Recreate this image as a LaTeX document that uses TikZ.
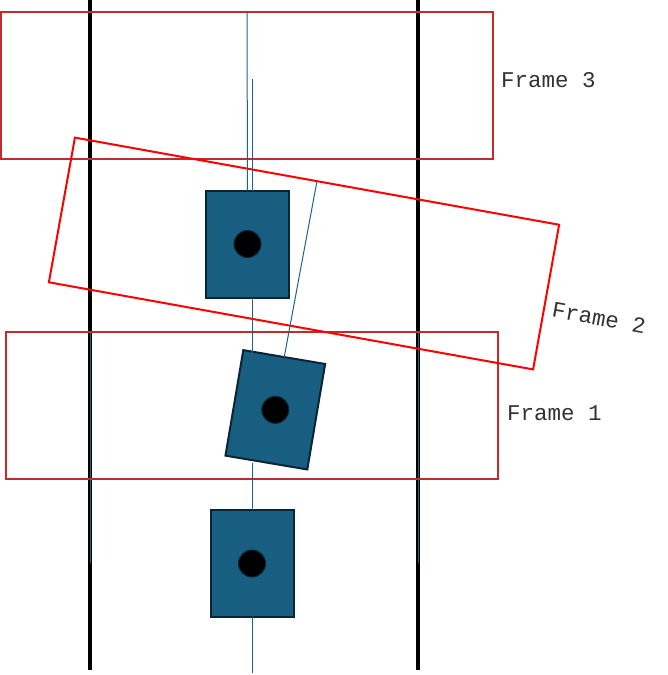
\documentclass[tikz,border=0pt]{standalone}
\usepackage{fontspec}
\newfontfamily\monofont{Liberation Mono}
\definecolor{carblue}{HTML}{175E81}
\definecolor{caredge}{HTML}{0B2533}
\definecolor{headblue}{HTML}{1F6388}
\definecolor{frameA}{HTML}{C02C2C}
\definecolor{frameB}{HTML}{FF0000}
\definecolor{labelgray}{HTML}{333333}
\tikzset{
  lane/.style={line width=4.5pt, black},
  heading/.style={line width=1pt, headblue},
  framebox/.style={draw=frameA, line width=2pt, minimum width=492pt, minimum height=147pt, inner sep=0pt, outer sep=0pt},
  carbox/.style={draw=caredge, fill=carblue, line width=2pt, minimum width=83pt, minimum height=107pt, inner sep=0pt, outer sep=0pt},
  wheel/.style={circle, fill=black, draw=caredge, line width=1pt, minimum size=27pt, inner sep=0pt},
  framelabel/.style={font=\monofont\fontsize{22.5}{22.5}\selectfont, text=labelgray, inner sep=0pt, anchor=west}
}
\begin{document}
\begin{tikzpicture}[x=1pt,y=-1pt]
\useasboundingbox (0,0) rectangle (667,675);
% lane lines
\coordinate (l1t) at (90,0);
\coordinate (l1b) at (90,670);
\coordinate (l2t) at (418,0);
\coordinate (l2b) at (418,670);
\draw[lane] (l1t) -- (l1b);
\draw[lane] (l2t) -- (l2b);
\coordinate (b1t) at (90.5,331);
\coordinate (b1b) at (90.5,563);
\coordinate (b2t) at (418.5,331);
\coordinate (b2b) at (418.5,563);
\draw[heading] (b1t) -- (b1b);
\draw[heading] (b2t) -- (b2b);
% frames
\node[framebox] (f3) at (247,85.5) {};
\node[framebox] (f1) at (252,405) {};
\node[framebox, draw=frameB, rotate=-10.2] (f2) at (304,253.5) {};
% cars
\node[carbox] (car1) at (252,563.5) {};
\node[carbox] (car3) at (247.5,244) {};
\node[carbox, rotate=-9.6] (car2) at (275.3,409.8) {};
% heading lines
\coordinate (h1top) at (252,79);
\coordinate (h1bot) at (252,673);
\coordinate (h3top) at (247,12);
\coordinate (h2top) at (317,181);
\draw[heading] (h1top) -- (car3.north -| h1top);
\draw[heading] (car3.south -| h1top) -- (car2.north -| h1top);
\draw[heading] (car2.south -| h1top) -- (car1.north);
\draw[heading] (car1.south) -- (h1bot);
\draw[heading] (car3.north) -- (h3top);
\draw[heading] (car2.north) -- (h2top);
% wheels
\node[wheel] (w3) at (car3.center) {};
\node[wheel] (w2) at (car2.center) {};
\node[wheel] (w1) at (car1.center) {};
% labels
\node[framelabel] (t3) at (501,80) {Frame 3};
\node[framelabel] (t1) at (507,413) {Frame 1};
\node[framelabel, anchor=center, rotate=-10.2] (t2) at (599,318) {Frame 2};
\end{tikzpicture}
\end{document}
